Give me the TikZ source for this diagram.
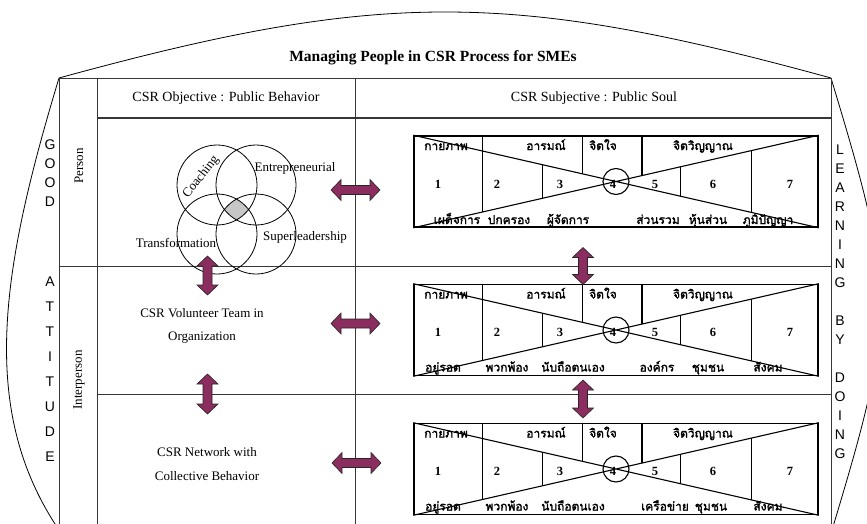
\documentclass[tikz,border=0pt]{standalone}
\usepackage{fontspec}
\setmainfont{Liberation Serif}
\newfontfamily\thaifont[Script=Thai,AutoFakeBold=1.8]{Loma}
\newfontfamily\lettersans{Liberation Sans}
\usetikzlibrary{calc}
\definecolor{arrowfill}{RGB}{140,45,95}
\definecolor{gridline}{RGB}{55,55,55}
\tikzset{
  gridl/.style={draw=gridline, line width=0.9pt},
  frame/.style={draw=black, line width=0.8pt},
  thaibx/.style={draw=black, line width=1.6pt, minimum width=404pt, minimum height=91pt, inner sep=0pt},
  boxline/.style={draw=black, line width=1.1pt},
  th/.style={font=\thaifont\bfseries\fontsize{12}{13}\selectfont, inner sep=0pt, anchor=base},
  num/.style={font=\bfseries\fontsize{12.5}{14}\selectfont, inner sep=0pt, anchor=base},
  lbl/.style={font=\fontsize{13}{15}\selectfont, inner sep=0pt},
  hdr/.style={font=\fontsize{14}{16}\selectfont, inner sep=0pt},
  letter/.style={font=\lettersans\fontsize{14}{14}\selectfont, inner sep=0pt},
  venn/.style={draw=black, line width=0.8pt},
  fatarrow/.style={draw=black!85, fill=arrowfill, line width=0.6pt},
  pics/dblarrow/.style={code={
    \pgfmathsetmacro{\hl}{#1/2}\pgfmathsetmacro{\hb}{#1/2-10}
    \path[fatarrow] (-\hl,0) -- (-\hb,-10.5) -- (-\hb,-4.5) -- (\hb,-4.5) -- (\hb,-10.5) -- (\hl,0)
      -- (\hb,10.5) -- (\hb,4.5) -- (-\hb,4.5) -- (-\hb,10.5) -- cycle;
  }},
}
\newcommand{\thaiboxinside}[1]{%
  \draw[boxline] (#1.north west) -- (#1.south east) (#1.south west) -- (#1.north east);
  \draw[boxline] ($(#1.north west)!0.171!(#1.north east)$) -- ($(#1.south west)!0.171!(#1.north east)$);
  \draw[boxline] ($(#1.north west)!0.319!(#1.south east)$) -- ($(#1.south west)!0.319!(#1.north east)$);
  \draw[boxline] ($(#1.north west)!0.418!(#1.north east)$) -- ($(#1.north west)!0.418!(#1.south east)$);
  \draw[boxline] ($(#1.north west)!0.564!(#1.north east)$) -- ($(#1.south west)!0.564!(#1.north east)$);
  \draw[boxline] ($(#1.south west)!0.660!(#1.north east)$) -- ($(#1.north west)!0.660!(#1.south east)$);
  \draw[boxline] ($(#1.south west)!0.834!(#1.north east)$) -- ($(#1.north west)!0.834!(#1.south east)$);
  \draw[boxline] (#1.center) circle (13);
  \node[th] (#1-a) at ($(#1.center)+(-170,-31.5)$) {กายภาพ};
  \node[th] (#1-b) at ($(#1.center)+(-70,-31.5)$) {อารมณ์};
  \node[th] (#1-c) at ($(#1.center)+(-13,-31.5)$) {จิตใจ};
  \node[th] (#1-d) at ($(#1.center)+(87,-31.5)$) {จิตวิญญาณ};
  \node[num] (#1-n1) at ($(#1.center)+(-178,6.5)$) {1};
  \node[num] (#1-n2) at ($(#1.center)+(-119,6.5)$) {2};
  \node[num] (#1-n3) at ($(#1.center)+(-56,6.5)$) {3};
  \node[num] (#1-n4) at ($(#1.center)+(-3,6.5)$) {4};
  \node[num] (#1-n5) at ($(#1.center)+(39,6.5)$) {5};
  \node[num] (#1-n6) at ($(#1.center)+(97,6.5)$) {6};
  \node[num] (#1-n7) at ($(#1.center)+(174,6.5)$) {7};
}
\begin{document}
\begin{tikzpicture}[x=1pt,y=-1pt]
\path[use as bounding box] (0,0) rectangle (867,524);
\clip (0,0) rectangle (867,524);
% corners
\coordinate (tl) at (59,78);
\coordinate (tr) at (831,78);
\coordinate (bl) at (59,530);
\coordinate (br) at (832,530);
% outer curved frame
\draw[frame] (tl) .. controls (380,-10) and (510,-10) .. (tr);
\draw[frame] (tl) .. controls (1,270) and (-22,410) .. (bl);
\draw[frame] (tr) .. controls (896,293) and (897,315) .. (br);
% table grid
\draw[gridl] (tl) -- (tr);
\draw[gridl] (59,78) -- (59,524);
\draw[gridl] (97,78) -- (97,524);
\draw[gridl] (355,78) -- (355,524);
\draw[gridl] (831,78) -- (831,524);
\draw[gridl, line width=1.5pt] (97,118) -- (831,118);
\draw[gridl] (59,266) -- (831,266);
\draw[gridl] (97,394) -- (831,394);
% title and headers
\node[font=\bfseries\fontsize{15.5}{17}\selectfont, inner sep=0pt] (title) at (433,58) {Managing People in CSR Process for SMEs};
\node[hdr] (hobj) at (226,98) {CSR Objective : Public Behavior};
\node[hdr] (hsub) at (594,98) {CSR Subjective : Public Soul};
% side letters
\foreach \ch/\yy [count=\i] in {G/145,O/164,O/183,D/202,A/282,T/307,T/332,I/357,T/382,U/407,D/432,E/457}
  \node[letter] (left\i) at (50,\yy) {\ch};
\foreach \ch/\yy [count=\i] in {L/150,E/169,A/188,R/207,N/226,I/245,N/264,G/283,B/321,Y/340,D/378,O/397,I/416,N/435,G/454}
  \node[letter] (right\i) at (840,\yy) {\ch};
% row labels
\node[lbl, rotate=90] (person) at (79,166) {Person};
\node[lbl, rotate=90] (interperson) at (79,380) {Interperson};
% Venn diagram
\coordinate (c1) at (217,185);
\coordinate (c2) at (256,185);
\coordinate (c3) at (217,234);
\coordinate (c4) at (256,234);
\begin{scope}
  \clip (c1) circle (40);
  \clip (c2) circle (40);
  \clip (c3) circle (40);
  \fill[black!22] (c4) circle (40);
\end{scope}
\draw[venn] (c1) circle (40) (c2) circle (40) (c3) circle (40) (c4) circle (40);
\node[lbl, rotate=52] (coach) at (201,177) {Coaching};
\node[lbl] (entre) at (295,168) {Entrepreneurial};
\node[lbl] (super) at (305,237) {Superleadership};
\node[lbl] (trans) at (176,243) {Transformation};
% objective texts
\node[lbl] (vol1) at (202,313) {CSR Volunteer Team in};
\node[lbl] (vol2) at (202,338) {Organization};
\node[lbl] (net1) at (207,452) {CSR Network with};
\node[lbl] (net2) at (207,476) {Collective Behavior};
% Thai boxes
\node[thaibx] (b1) at (616,181.5) {};
\node[thaibx] (b2) at (616,330) {};
\node[thaibx] (b3) at (616,469) {};
\thaiboxinside{b1}
\thaiboxinside{b2}
\thaiboxinside{b3}
\node[th] (b1-w1) at ($(b1.center)+(-159,42.5)$) {เผด็จการ};
\node[th] (b1-w2) at ($(b1.center)+(-107,42.5)$) {ปกครอง};
\node[th] (b1-w3) at ($(b1.center)+(-48,42.5)$) {ผู้จัดการ};
\node[th] (b1-w4) at ($(b1.center)+(42,42.5)$) {ส่วนรวม};
\node[th] (b1-w5) at ($(b1.center)+(92,42.5)$) {หุ้นส่วน};
\node[th] (b1-w6) at ($(b1.center)+(152,42.5)$) {ภูมิปัญญา};
\node[th] (b2-w1) at ($(b2.center)+(-173,41.5)$) {อยู่รอด};
\node[th] (b2-w2) at ($(b2.center)+(-109,41.5)$) {พวกพ้อง};
\node[th] (b2-w3) at ($(b2.center)+(-43,41.5)$) {นับถือตนเอง};
\node[th] (b2-w4) at ($(b2.center)+(41,41.5)$) {องค์กร};
\node[th] (b2-w5) at ($(b2.center)+(92,41.5)$) {ชุมชน};
\node[th] (b2-w6) at ($(b2.center)+(152,41.5)$) {สังคม};
\node[th] (b3-w1) at ($(b3.center)+(-173,41.5)$) {อยู่รอด};
\node[th] (b3-w2) at ($(b3.center)+(-109,41.5)$) {พวกพ้อง};
\node[th] (b3-w3) at ($(b3.center)+(-43,41.5)$) {นับถือตนเอง};
\node[th] (b3-w4) at ($(b3.center)+(49,41.5)$) {เครือข่าย};
\node[th] (b3-w5) at ($(b3.center)+(95,41.5)$) {ชุมชน};
\node[th] (b3-w6) at ($(b3.center)+(152,41.5)$) {สังคม};
% fat double arrows
\pic (ha1) at (355.5,190) {dblarrow=49};
\pic (ha2) at (355.5,323.5) {dblarrow=49};
\pic (ha3) at (356.5,463) {dblarrow=49};
\pic[rotate=90] (va1) at (207.5,275.5) {dblarrow=39};
\pic[rotate=90] (va2) at (207.5,394) {dblarrow=40};
\pic[rotate=90] (va3) at (583,266) {dblarrow=37};
\pic[rotate=90] (va4) at (583,399) {dblarrow=38};
\end{tikzpicture}
\end{document}
